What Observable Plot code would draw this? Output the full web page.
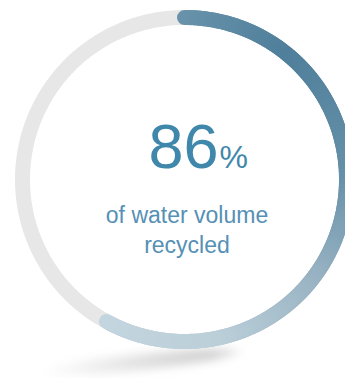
<!DOCTYPE html>
<html>
<head>
<meta charset="utf-8">
<script src="https://cdn.jsdelivr.net/npm/d3@7"></script>
<script src="https://cdn.jsdelivr.net/npm/@observablehq/plot@0.6"></script>
<style>
  html, body { margin: 0; padding: 0; background: #fff; }
  svg { display: block; }
</style>
</head>
<body>
<div id="chart"></div>
<script>
// ---- data ----
const percentValue = [86];            // big number
const arcShare = [0.58];              // share of the ring covered by the coloured arc (as drawn)
const labelLines = ["of water volume", "recycled"];
const unitLabel = ["%"];

// ---- colours ----
const trackColor = "#e7e7e7";
const arcStops = [0, 40, 90, 130, 170, 210];
const arcColors = ["#6993ab", "#4f7f9b", "#6690a8", "#9ab4c4", "#bbcfd9", "#c3d5de"];
const arcColor = d3.scaleLinear().domain(arcStops).range(arcColors).interpolate(d3.interpolateRgb).clamp(true);

// geometry derived from the value: ring around unit circle, clockwise from 12 o'clock
const toXY = deg => ({x: Math.sin(deg * Math.PI / 180), y: Math.cos(deg * Math.PI / 180)});
const ring = d3.range(0, 361, 1).map(toXY);
const total = arcShare[0] * 360;
const nSeg = 180;
const segs = d3.range(nSeg).map(i => {
  const a0 = total * i / nSeg, a1 = total * (i + 1) / nSeg;
  const p0 = toXY(a0), p1 = toXY(a1);
  return {x1: p0.x, y1: p0.y, x2: p1.x, y2: p1.y, deg: (a0 + a1) / 2};
});

const shadow = (index, scales) => {
  const g = d3.create("svg:g");
  const defs = g.append("defs");
  defs.append("filter").attr("id", "blur").attr("x", "-50%").attr("y", "-300%").attr("width", "200%").attr("height", "700%")
    .append("feGaussianBlur").attr("stdDeviation", 5);
  const lg = defs.append("linearGradient").attr("id", "shade");
  lg.append("stop").attr("offset", "0%").attr("stop-color", "#c4c4c4").attr("stop-opacity", 0);
  lg.append("stop").attr("offset", "55%").attr("stop-color", "#c4c4c4").attr("stop-opacity", 0.55);
  lg.append("stop").attr("offset", "85%").attr("stop-color", "#c4c4c4").attr("stop-opacity", 0.8);
  lg.append("stop").attr("offset", "100%").attr("stop-color", "#c4c4c4").attr("stop-opacity", 0.4);
  const cx = scales.x(-0.27), cy = scales.y(-1) + 21;
  g.append("ellipse")
    .attr("cx", cx).attr("cy", cy).attr("rx", 100).attr("ry", 8)
    .attr("fill", "url(#shade)")
    .attr("filter", "url(#blur)")
    .attr("transform", `rotate(-6 ${cx} ${cy})`);
  return g.node();
};

const font = "'Liberation Sans', Arial, Helvetica, sans-serif";

const chart = Plot.plot({
  width: 345,
  height: 378,
  margin: 0,
  style: {background: "#fff", fontFamily: font, overflow: "hidden"},
  x: {domain: [-1, 1], range: [22, 346], axis: null},
  y: {domain: [-1, 1], range: [341, 17], axis: null},
  marks: [
    shadow,
    Plot.line(ring, {x: "x", y: "y", stroke: trackColor, strokeWidth: 15, curve: "linear"}),
    Plot.link(segs, {x1: "x1", y1: "y1", x2: "x2", y2: "y2", stroke: d => arcColor(d.deg), strokeWidth: 15, strokeLinecap: "round"}),
    Plot.text(percentValue, {x: () => 0, y: () => 0, text: d => String(d), textAnchor: "end", lineAnchor: "bottom",
      dx: 34, dy: -12, fontSize: 63, fill: "#3f88ab", fontFamily: font}),
    Plot.text(unitLabel, {x: () => 0, y: () => 0, text: d => d, textAnchor: "start", lineAnchor: "bottom",
      dx: 35, dy: -12, fontSize: 32, fill: "#3f88ab", fontFamily: font}),
    Plot.text([labelLines.join("\n")], {x: () => 0, y: () => 0, text: d => d, textAnchor: "middle", lineAnchor: "bottom",
      dx: 2.5, dy: 73, fontSize: 23, lineHeight: 1.3, fill: "#5590b5", fontFamily: font})
  ]
});
document.getElementById("chart").appendChild(chart);
</script>
</body>
</html>
